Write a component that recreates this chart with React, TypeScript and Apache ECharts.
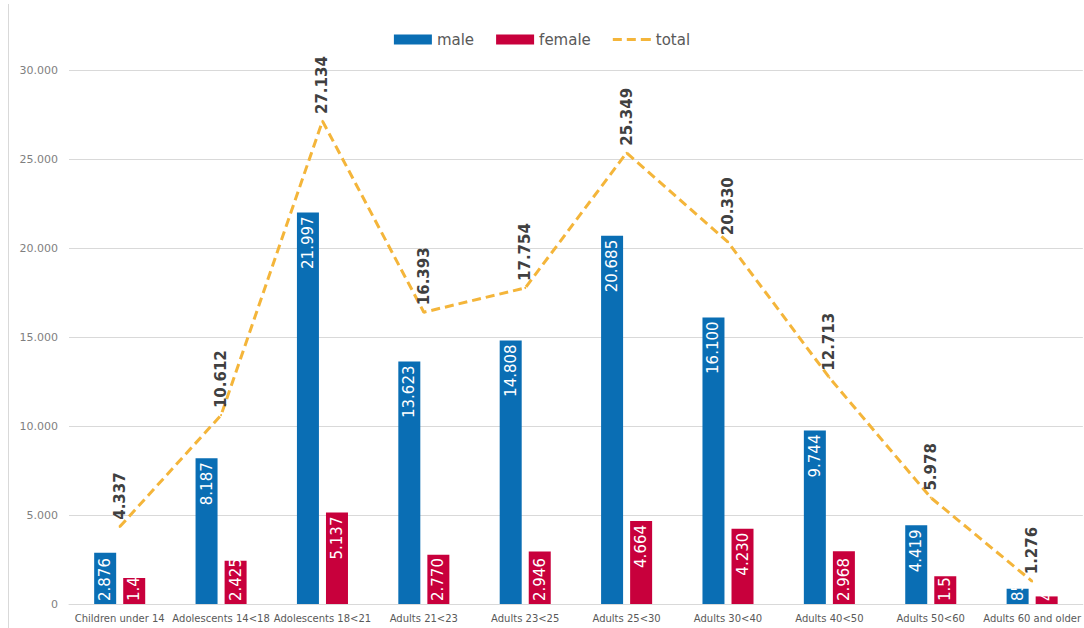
import React, { useEffect, useRef } from "react";
import * as echarts from "echarts";

const categories = [
  "Children under 14",
  "Adolescents 14<18",
  "Adolescents 18<21",
  "Adults 21<23",
  "Adults 23<25",
  "Adults 25<30",
  "Adults 30<40",
  "Adults 40<50",
  "Adults 50<60",
  "Adults 60 and older",
];
const male = [2876, 8187, 21997, 13623, 14808, 20685, 16100, 9744, 4419, 850];
const female = [1461, 2425, 5137, 2770, 2946, 4664, 4230, 2968, 1559, 426];
const total = [4337, 10612, 27134, 16393, 17754, 25349, 20330, 12713, 5978, 1276];
const yTicks = { min: 0, max: 30000, interval: 5000 };

const fmt = (v: number) =>
  Math.round(v)
    .toString()
    .replace(/\B(?=(\d{3})+(?!\d))/g, ".");

const BLUE = "#0A6EB4";
const RED = "#C8003C";
const GOLD = "#F4B53A";

export default function App() {
  const ref = useRef<HTMLDivElement>(null);
  useEffect(() => {
    document.body.style.margin = "0";
    if (!ref.current) return;
    const chart = echarts.init(ref.current, null, { renderer: "svg" });
    const plotH = 604 - 70;
    const pxPer = plotH / yTicks.max;
    const barData = (arr: number[]) =>
      arr.map((v) => {
        const h = v * pxPer;
        const short = h < 58;
        return {
          value: v,
          label: short
            ? { position: "insideBottom", align: "left", verticalAlign: "middle", distance: 3 }
            : { position: "insideTop", align: "right", verticalAlign: "middle", distance: 4 },
        };
      });
    const barLabel = {
      show: true,
      rotate: 90,
      color: "#ffffff",
      fontFamily: "DejaVu Sans",
      fontSize: 15,
      formatter: (p: any) => fmt(p.value),
    };
    chart.setOption({
      animation: false,
      backgroundColor: "#ffffff",
      textStyle: { fontFamily: "DejaVu Sans" },
      legend: {
        top: 27,
        left: "center",
        itemGap: 22,
        itemWidth: 38,
        itemHeight: 10,
        textStyle: { color: "#595959", fontSize: 15, fontFamily: "DejaVu Sans" },
        data: [
          { name: "male", icon: "rect" },
          { name: "female", icon: "rect" },
          {
            name: "total",
            icon: "path://M0,4h9v3h-9z M14,4h9v3h-9z M28,4h10v3h-10z",
            itemStyle: { color: GOLD, opacity: 1 },
            lineStyle: { opacity: 0 },
          },
        ],
      },
      grid: { left: 69, right: 0, top: 70, bottom: 24, containLabel: false },
      xAxis: {
        type: "category",
        data: categories,
        axisTick: { show: false },
        axisLine: { lineStyle: { color: "#d9d9d9", width: 1 } },
        axisLabel: {
          interval: 0,
          color: "#595959",
          fontSize: 10,
          margin: 9,
          fontFamily: "DejaVu Sans",
        },
      },
      yAxis: {
        type: "value",
        min: yTicks.min,
        max: yTicks.max,
        interval: yTicks.interval,
        axisLine: { show: false },
        axisTick: { show: false },
        splitLine: { lineStyle: { color: "#d9d9d9", width: 1 } },
        axisLabel: {
          color: "#7f7f7f",
          fontSize: 11,
          margin: 11,
          fontFamily: "DejaVu Sans",
          formatter: (v: number) => fmt(v),
        },
      },
      graphic: [
        {
          type: "line",
          shape: { x1: 8.5, y1: 4, x2: 8.5, y2: 628 },
          style: { stroke: "#d9d9d9", lineWidth: 1 },
        },
      ],
      series: [
        {
          name: "male",
          type: "bar",
          data: barData(male),
          barWidth: 22,
          barGap: "32%",
          itemStyle: { color: BLUE },
          label: barLabel,
        },
        {
          name: "female",
          type: "bar",
          data: barData(female),
          barWidth: 22,
          itemStyle: { color: RED },
          label: barLabel,
        },
        {
          name: "total",
          type: "line",
          data: total,
          symbol: "circle",
          symbolSize: 2,
          showSymbol: true,
          showAllSymbol: true,
          lineStyle: { color: GOLD, width: 3, type: [9, 5] },
          itemStyle: { color: GOLD, borderWidth: 0 },
          label: {
            show: true,
            position: "top",
            rotate: 90,
            align: "left",
            verticalAlign: "middle",
            distance: 5,
            offset: [1, 0],
            color: "#404040",
            fontWeight: "bold",
            fontSize: 15,
            fontFamily: "DejaVu Sans",
            formatter: (p: any) => fmt(p.value),
          },
          z: 5,
        },
      ],
    });
    return () => chart.dispose();
  }, []);
  return <div ref={ref} style={{ width: 1084, height: 628 }} />;
}
